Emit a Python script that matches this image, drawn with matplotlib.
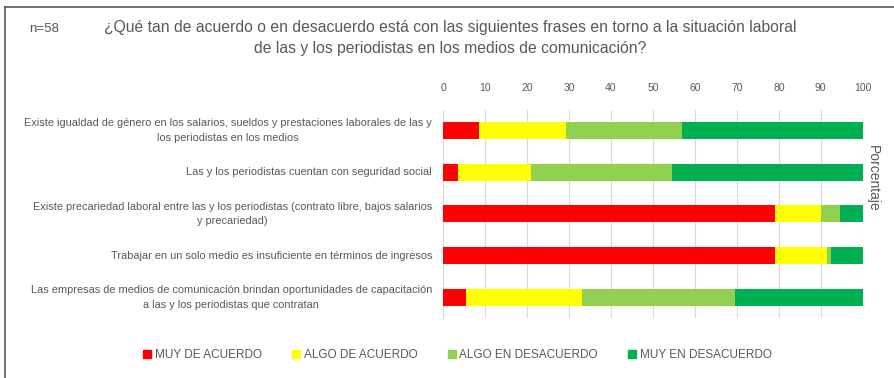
import numpy as np
from matplotlib import pyplot as plt
from matplotlib.lines import Line2D

plt.rcParams['font.family'] = ['Liberation Sans', 'DejaVu Sans']

# Percent of answers per statement (n=58)
statements = [
    "Existe igualdad de género en los salarios, sueldos y prestaciones laborales de las y\nlos periodistas en los medios",
    "Las y los periodistas cuentan con seguridad social",
    "Existe precariedad laboral entre las y los periodistas (contrato libre, bajos salarios\ny precariedad)",
    "Trabajar en un solo medio es insuficiente en términos de ingresos",
    "Las empresas de medios de comunicación brindan oportunidades de capacitación\na las y los periodistas que contratan",
]
muy_de_acuerdo = [8.6, 3.5, 79.0, 79.0, 5.5]
algo_de_acuerdo = [20.7, 17.5, 11.0, 12.5, 27.5]
algo_en_desacuerdo = [27.6, 33.5, 4.5, 1.0, 36.5]
muy_en_desacuerdo = [43.1, 45.5, 5.5, 7.5, 30.5]

series_names = ["MUY DE ACUERDO", "ALGO DE ACUERDO", "ALGO EN DESACUERDO", "MUY EN DESACUERDO"]
colors = ["#FF0000", "#FFFF00", "#92D050", "#00B050"]
ticks = list(range(0, 101, 10))

text_color = "#595959"

fig = plt.figure(figsize=(8.95, 3.78), dpi=100)
ax = fig.add_axes([0.495, 0.159, 0.469, 0.55])

y = np.arange(len(statements))
left = np.zeros(len(statements))
for vals, name, c in zip([muy_de_acuerdo, algo_de_acuerdo, algo_en_desacuerdo, muy_en_desacuerdo],
                         series_names, colors):
    ax.barh(y, vals, left=left, height=0.41, color=c, label=name, zorder=3)
    left += np.array(vals)

ax.set_xlim(0, 100)
ax.set_ylim(len(statements) - 0.5, -0.5)
ax.set_xticks(ticks)
ax.xaxis.tick_top()
ax.tick_params(axis='x', length=0, labelsize=7.5, colors=text_color, pad=12)
ax.set_yticks([])
ax.grid(axis='x', color='#D9D9D9', linewidth=0.8, zorder=0)
for s in ax.spines.values():
    s.set_visible(False)

# category labels, right-aligned block with centred lines
for yi, txt in zip(y, statements):
    ax.text(-2.6, yi, txt, ha='right', va='center', multialignment='center',
            fontsize=7.9, color=text_color, linespacing=1.6)

ax.yaxis.set_label_position('right')
ax.set_ylabel("Porcentaje", rotation=-90, fontsize=10, color=text_color, labelpad=12)
ax.yaxis.label.set_y(0.67)

fig.text(0.033, 0.915, "n=58", fontsize=9.5, color=text_color)
fig.text(0.503, 0.9,
         "¿Qué tan de acuerdo o en desacuerdo está con las siguientes frases en torno a la situación laboral\n"
         "de las y los periodistas en los medios de comunicación?",
         fontsize=11.3, color=text_color, ha='center', va='center', linespacing=1.45)

handles = [Line2D([], [], marker='s', linestyle='none', markersize=6, color=c) for c in colors]
fig.legend(handles, series_names, loc='center', bbox_to_anchor=(0.51, 0.06), ncol=4, frameon=False,
           fontsize=8.5, labelcolor=text_color, handletextpad=0.15, handlelength=1.0, columnspacing=2.4)

# chart frame edges
fig.add_artist(Line2D([0.006, 0.006], [0, 0.982], color='#595959', linewidth=1.2))
fig.add_artist(Line2D([0.006, 1], [0.982, 0.982], color='#595959', linewidth=1.2))

fig.savefig("out.png", dpi=100)
